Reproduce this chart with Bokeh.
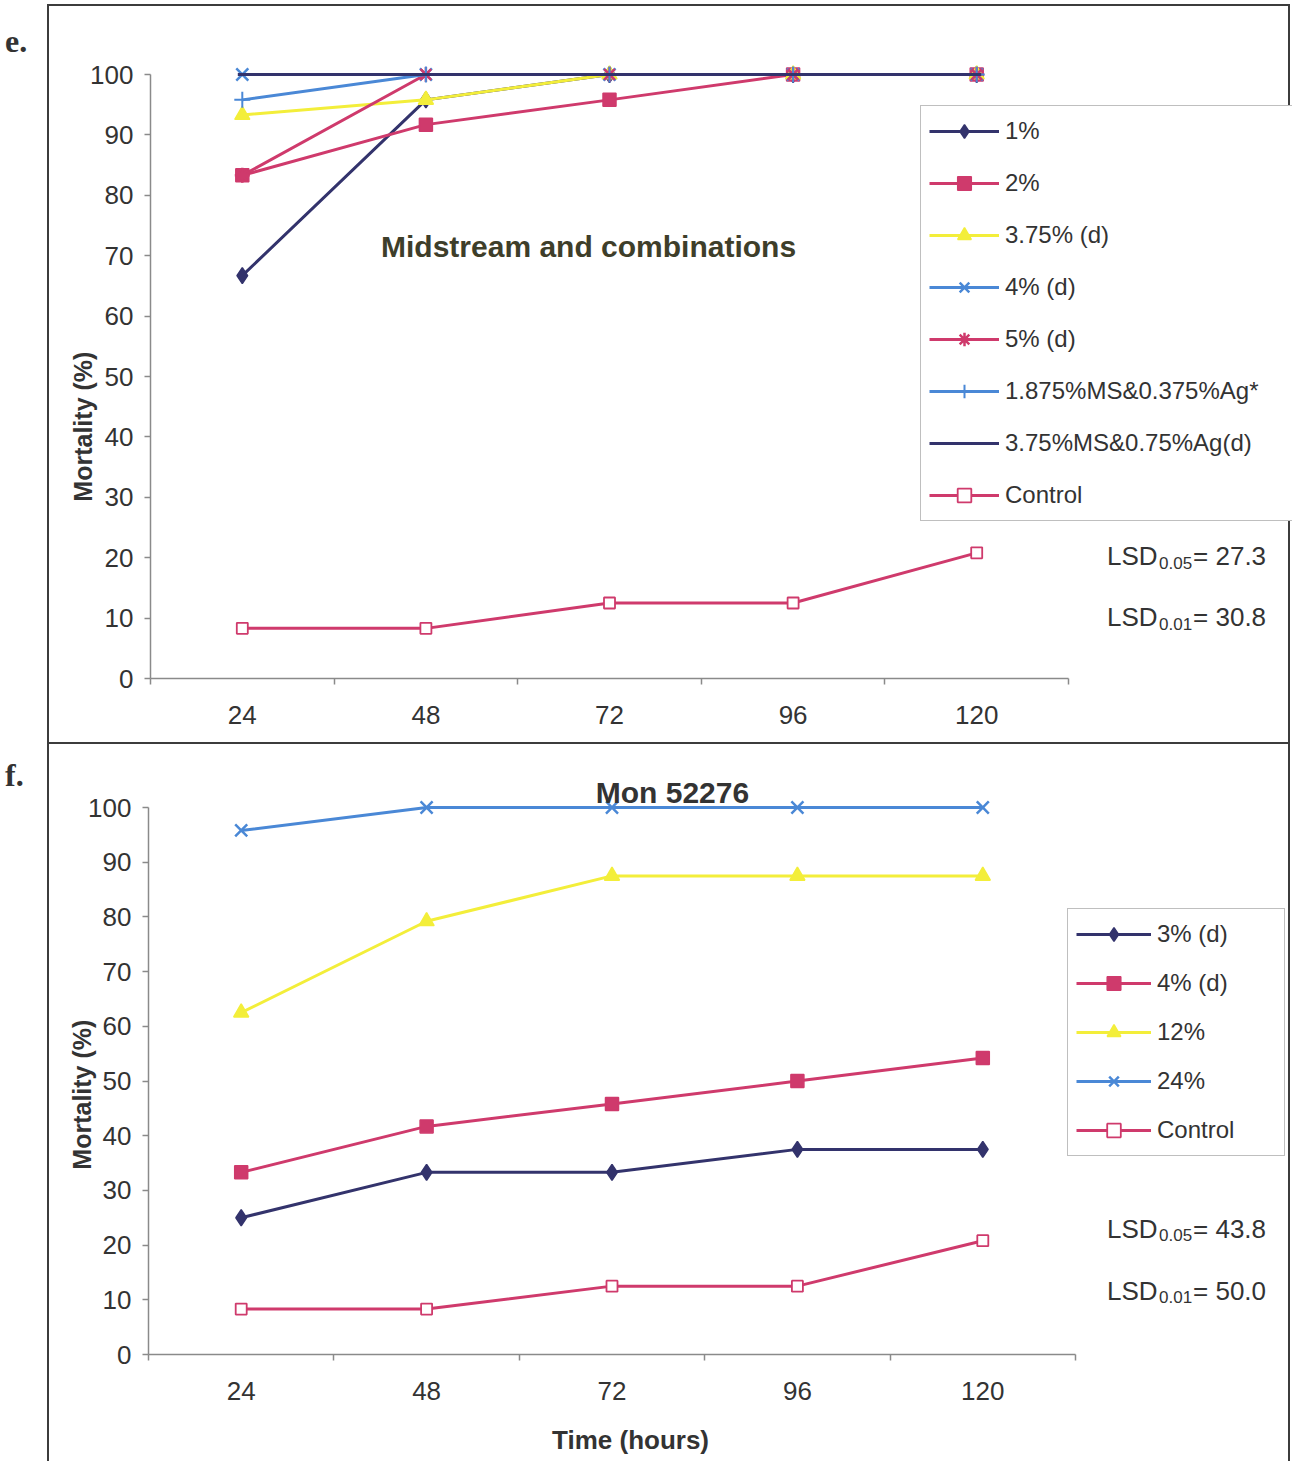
from bokeh.plotting import figure
from bokeh.models import Range1d, FixedTicker, Legend, LegendItem, Label, Div, Spacer
from bokeh.layouts import column, row
from bokeh.embed import file_html
from bokeh.resources import INLINE

# ---------------- data ----------------
hours = [24, 48, 72, 96, 120]
y_ticks = [0, 10, 20, 30, 40, 50, 60, 70, 80, 90, 100]

e_title = "Midstream and combinations"
e_names = ["1%", "2%", "3.75% (d)", "4% (d)", "5% (d)",
           "1.875%MS&0.375%Ag*", "3.75%MS&0.75%Ag(d)", "Control"]
e_1pct = [66.7, 95.8, 100, 100, 100]
e_2pct = [83.3, 91.7, 95.8, 100, 100]
e_375pct = [93.3, 95.8, 100, 100, 100]
e_4pct = [100, 100, 100, 100, 100]
e_5pct = [83.3, 100, 100, 100, 100]
e_ms1875 = [95.8, 100, 100, 100, 100]
e_ms375 = [100, 100, 100, 100, 100]
e_control = [8.3, 8.3, 12.5, 12.5, 20.8]
e_lsd_p = ["0.05", "0.01"]
e_lsd_v = ["27.3", "30.8"]

f_title = "Mon 52276"
f_names = ["3% (d)", "4% (d)", "12%", "24%", "Control"]
f_3pct = [25, 33.3, 33.3, 37.5, 37.5]
f_4pct = [33.3, 41.7, 45.8, 50, 54.2]
f_12pct = [62.5, 79.2, 87.5, 87.5, 87.5]
f_24pct = [95.8, 100, 100, 100, 100]
f_control = [8.3, 8.3, 12.5, 12.5, 20.8]
f_lsd_p = ["0.05", "0.01"]
f_lsd_v = ["43.8", "50.0"]

# ---------------- style ----------------
NAVY = "#33336c"
PINK = "#cf3a6c"
YELLOW = "#f3ee3a"
BLUE = "#4a88d6"
FONT = "Liberation Sans"
TXT = "#333333"
AX = "#8a8a8a"
BOX = "2px solid #3c3c3c"
W = 1243          # element width; canvas spans the full element
LW = 3


def base_fig(el_h, canvas_left, canvas_top, x0_px, x_scale,
             y0_px, y_scale, styles):
    """Frame covers the whole canvas; axes are pinned at data positions."""
    n = len(hours)
    xa = -0.5
    xr = Range1d(xa - (x0_px - canvas_left) / x_scale,
                 xa + (canvas_left + W - x0_px) / x_scale)
    yr = Range1d(-(canvas_top + el_h - y0_px) / y_scale,
                 (y0_px - canvas_top) / y_scale)
    p = figure(width=W, height=el_h, x_range=xr, y_range=yr,
               output_backend="svg", toolbar_location=None,
               min_border_left=0, min_border_right=0, min_border_top=0,
               min_border_bottom=0, background_fill_color="white",
               border_fill_color="white", styles=styles)
    p.outline_line_color = None
    p.xgrid.visible = False
    p.ygrid.visible = False
    p.xaxis.fixed_location = 0
    p.yaxis.fixed_location = xa
    p.xaxis.bounds = (xa, xa + n)
    p.yaxis.bounds = (y_ticks[0], y_ticks[-1])
    p.xaxis.ticker = FixedTicker(ticks=list(range(n)),
                                 minor_ticks=[i - 0.5 for i in range(n + 1)])
    p.xaxis.major_label_overrides = {i: str(h) for i, h in enumerate(hours)}
    p.yaxis.ticker = FixedTicker(ticks=y_ticks, minor_ticks=[])
    for ax in (p.xaxis[0], p.yaxis[0]):
        ax.axis_line_color = AX
        ax.axis_line_width = 1.5
        ax.major_tick_line_color = AX
        ax.major_tick_line_width = 1.5
        ax.minor_tick_line_color = AX
        ax.minor_tick_line_width = 1.5
        ax.major_label_text_font = FONT
        ax.major_label_text_font_size = "26px"
        ax.major_label_text_color = TXT
    p.xaxis.major_tick_in = 0
    p.xaxis.major_tick_out = 0
    p.xaxis.minor_tick_in = 0
    p.xaxis.minor_tick_out = 6
    p.xaxis.major_label_standoff = 21
    p.yaxis.major_tick_in = 0
    p.yaxis.major_tick_out = 6
    p.yaxis.minor_tick_in = 0
    p.yaxis.minor_tick_out = 0
    p.yaxis.major_label_standoff = 11
    return p


def add_series(p, ys, color, marker, size, fill=None, mlw=1.5):
    xs = list(range(len(ys)))
    r1 = p.line(xs, ys, line_color=color, line_width=LW)
    r2 = p.scatter(xs, ys, marker=marker, size=size, line_color=color,
                   fill_color=fill if fill is not None else color,
                   line_width=mlw)
    return [r1, r2]


def add_text(p, x, y, text, size, bold=False, color=TXT, angle=0.0,
             align="center", x_offset=0):
    p.add_layout(Label(x=x, y=y, text=text, text_font=FONT,
                       text_font_size=size,
                       text_font_style="bold" if bold else "normal",
                       text_color=color, angle=angle, text_align=align,
                       text_baseline="middle", x_offset=x_offset))


def add_lsd(p, x, ys, ps, vs, sub_dy):
    for y, pv, vv in zip(ys, ps, vs):
        add_text(p, x, y, "LSD", "26px", align="left")
        add_text(p, x, y - sub_dy, pv, "17px", align="left", x_offset=52)
        add_text(p, x, y, "= " + vv, "26px", align="left", x_offset=86)


def make_legend(items, loc, spacing, glyph_w, label_w):
    return Legend(items=items, location=loc, padding=8, spacing=spacing,
                  glyph_width=glyph_w, glyph_height=34, label_height=34,
                  label_width=label_w, label_standoff=6,
                  label_text_font=FONT, label_text_font_size="24px",
                  label_text_color=TXT, border_line_color="#808080",
                  border_line_width=1.2, background_fill_color="white",
                  background_fill_alpha=1.0, margin=0)


# ---------------- panel e ----------------
# element at page (47, 5), 1243 x 740; canvas drawn inside the 2px border
pe = base_fig(740, 49, 7, 150, 183.6, 679, 6.04, {"border": BOX})
e_series = [
    add_series(pe, e_1pct, NAVY, "diamond", 16),
    add_series(pe, e_2pct, PINK, "square", 13),
    add_series(pe, e_375pct, YELLOW, "triangle", 15),
    add_series(pe, e_4pct, BLUE, "x", 17, mlw=2.5),
    add_series(pe, e_5pct, PINK, "asterisk", 15, mlw=2.5),
    add_series(pe, e_ms1875, BLUE, "cross", 16, mlw=2),
    add_series(pe, e_ms375, NAVY, "dash", 9, mlw=3),
    add_series(pe, e_control, PINK, "square", 11, fill="white", mlw=1.8),
]
pe.add_layout(make_legend([LegendItem(label=n, renderers=r)
                           for n, r in zip(e_names, e_series)],
                          (871, 225), 18, 70, 279))
add_text(pe, 1.886, 71.5, e_title, "30px", bold=True, color="#3e3e2a")
add_text(pe, -0.87, 41.7, "Mortality (%)", "25px", bold=True, angle=1.5708)
add_lsd(pe, 4.71, [20.2, 10.1], e_lsd_p, e_lsd_v, 1.0)

# ---------------- panel f ----------------
# element at page (47, 745), 1243 x 717; canvas after the 2px left border
pf = base_fig(717, 49, 745, 148, 185.4, 1355, 5.47,
              {"border-left": BOX, "border-right": BOX})
f_series = [
    add_series(pf, f_3pct, NAVY, "diamond", 16),
    add_series(pf, f_4pct, PINK, "square", 13),
    add_series(pf, f_12pct, YELLOW, "triangle", 15),
    add_series(pf, f_24pct, BLUE, "x", 17, mlw=2.5),
    add_series(pf, f_control, PINK, "square", 11, fill="white", mlw=1.8),
]
pf.add_layout(make_legend([LegendItem(label=n, renderers=r)
                           for n, r in zip(f_names, f_series)],
                          (1018, 305), 15, 75, 119))
add_text(pf, 2.326, 102.7, f_title, "30px", bold=True)
add_text(pf, -0.856, 47.5, "Mortality (%)", "25px", bold=True, angle=1.5708)
add_text(pf, 2.1, -15.7, "Time (hours)", "26px", bold=True)
add_lsd(pf, 4.67, [22.9, 11.7], f_lsd_p, f_lsd_v, 1.1)


def tag(t, pad):
    return Div(text=f'<div style="margin-top:{pad}px">{t}</div>', width=37,
               styles={"font-family": "Liberation Serif", "font-size": "32px",
                       "font-weight": "bold", "color": "#333"})


layout = column(Spacer(height=4),
                row(tag("e.", 10), pe),
                row(tag("f.", 4), pf))
open("out.html", "w").write(file_html(layout, INLINE))
